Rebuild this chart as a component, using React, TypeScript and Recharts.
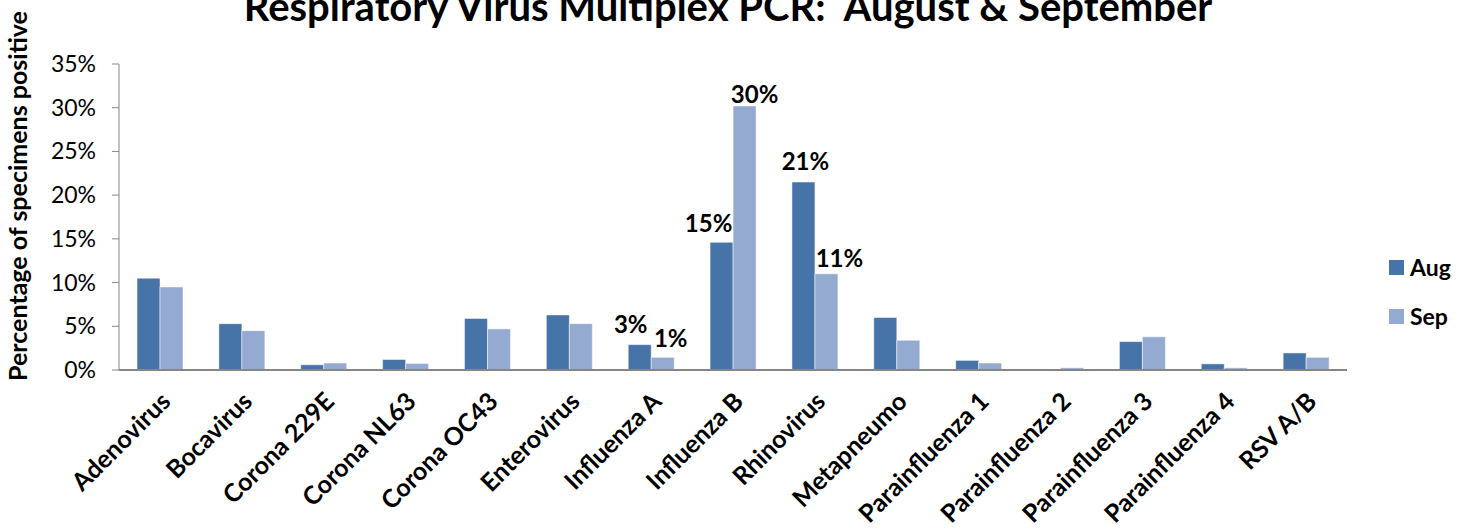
import React from "react";
import { BarChart, Bar, XAxis, YAxis, LabelList } from "recharts";

const categories = [
  "Adenovirus", "Bocavirus", "Corona 229E", "Corona NL63", "Corona OC43",
  "Enterovirus", "Influenza A", "Influenza B", "Rhinovirus", "Metapneumo",
  "Parainfluenza 1", "Parainfluenza 2", "Parainfluenza 3", "Parainfluenza 4", "RSV A/B",
];
const augValues = [10.5, 5.3, 0.6, 1.2, 5.9, 6.3, 2.9, 14.6, 21.5, 6.0, 1.1, 0.0, 3.25, 0.7, 1.95];
const sepValues = [9.5, 4.5, 0.8, 0.75, 4.7, 5.3, 1.45, 30.2, 11.0, 3.4, 0.8, 0.25, 3.8, 0.25, 1.45];
const augLabels = ["", "", "", "", "", "", "3%", "15%", "21%", "", "", "", "", "", ""];
const sepLabels = ["", "", "", "", "", "", "1%", "30%", "11%", "", "", "", "", "", ""];
const yTicks = [0, 5, 10, 15, 20, 25, 30, 35];
const seriesNames = ["Aug", "Sep"];

const AUG = "#4673A8";
const SEP = "#95AAD1";
const FONT = "Lato, 'Open Sans', sans-serif";

const data = categories.map((name, i) => ({
  name,
  aug: augValues[i],
  sep: sepValues[i],
  augLabel: augLabels[i],
  sepLabel: sepLabels[i],
}));

// label nudges (styling only)
const augNudge: Record<string, [number, number]> = {
  "Influenza A": [-9, -12],
  "Influenza B": [-13, -10],
  Rhinovirus: [2, -12],
};
const sepNudge: Record<string, [number, number]> = {
  "Influenza A": [8, -10],
  "Influenza B": [10, -3],
  Rhinovirus: [13, -7],
};

const makeLabel = (nudge: Record<string, [number, number]>) => (props: any) => {
  const { x, y, width, value, index } = props;
  if (!value) return null;
  const [dx, dy] = nudge[categories[index]] ?? [0, -10];
  return (
    <text
      x={x + width / 2 + dx}
      y={y + dy}
      textAnchor="middle"
      fontFamily={FONT}
      fontWeight={700}
      fontSize={24}
      fill="#000"
    >
      {value}
    </text>
  );
};

const XTick = (props: any) => {
  const { x, y, payload } = props;
  return (
    <g transform={`translate(${x + 12},${y + 25})`}>
      <text
        transform="rotate(-45)"
        textAnchor="end"
        fontFamily={FONT}
        fontWeight={700}
        fontSize={25}
        fill="#000"
      >
        {payload.value}
      </text>
    </g>
  );
};

const YTick = (props: any) => {
  const { x, y, payload } = props;
  return (
    <text
      x={x - 14}
      y={y}
      dy={8}
      textAnchor="end"
      fontFamily={FONT}
      fontSize={23}
      fill="#000"
    >
      {`${payload.value}%`}
    </text>
  );
};

export default function App() {
  const colors = [AUG, SEP];
  return (
    <div style={{ position: "absolute", left: 0, top: 0, width: 1468, height: 529, background: "#fff", overflow: "hidden" }}>
      <div
        style={{
          position: "absolute",
          left: 0,
          width: 1456,
          top: -16,
          textAlign: "center",
          fontFamily: FONT,
          fontWeight: 700,
          fontSize: 40,
          lineHeight: "44px",
          color: "#000",
        }}
      >
        Respiratory Virus Multiplex PCR:&nbsp; August &amp; September
      </div>
      <div
        style={{
          position: "absolute",
          left: 17,
          top: 196,
          transform: "translate(-50%, -50%) rotate(-90deg)",
          whiteSpace: "nowrap",
          fontFamily: FONT,
          fontWeight: 700,
          fontSize: 25,
          color: "#000",
        }}
      >
        Percentage of specimens positive
      </div>
      <div style={{ position: "absolute", left: 1389, top: 253, fontFamily: FONT, fontWeight: 700, fontSize: 23 }}>
        {seriesNames.map((s, i) => (
          <div key={s} style={{ display: "flex", alignItems: "center", height: 28, marginBottom: i === 0 ? 21 : 0 }}>
            <div style={{ width: 15, height: 15, background: colors[i], marginRight: 6 }} />
            <span>{s}</span>
          </div>
        ))}
      </div>
      <BarChart
        width={1468}
        height={529}
        data={data}
        margin={{ top: 64, right: 121, bottom: 9, left: 59 }}
        barCategoryGap="22%"
        barGap={0}
      >
        <XAxis
          dataKey="name"
          interval={0}
          height={150}
          tick={<XTick />}
          tickLine={false}
          axisLine={{ stroke: "#868686", strokeWidth: 2 }}
        />
        <YAxis
          domain={[0, 35]}
          ticks={yTicks}
          width={60}
          tick={<YTick />}
          tickLine={{ stroke: "#868686", strokeWidth: 1 }}
          tickSize={7}
          axisLine={{ stroke: "#868686", strokeWidth: 1 }}
        />
        <Bar dataKey="aug" name="Aug" fill={AUG} stroke="#ffffff" strokeOpacity={0.5} isAnimationActive={false}>
          <LabelList dataKey="augLabel" content={makeLabel(augNudge)} />
        </Bar>
        <Bar dataKey="sep" name="Sep" fill={SEP} stroke="#ffffff" strokeOpacity={0.5} isAnimationActive={false}>
          <LabelList dataKey="sepLabel" content={makeLabel(sepNudge)} />
        </Bar>
      </BarChart>
    </div>
  );
}
